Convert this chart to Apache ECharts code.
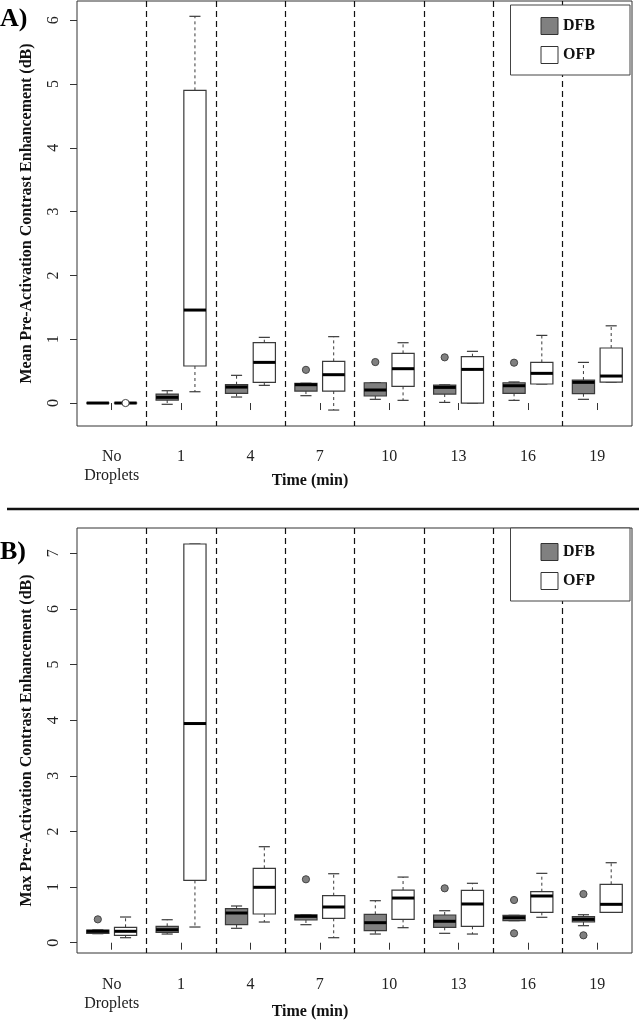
<!DOCTYPE html>
<html><head><meta charset="utf-8">
<script src="https://cdn.jsdelivr.net/npm/echarts@6/dist/echarts.min.js"></script>
<style>html,body{margin:0;padding:0;background:#fff}#c{width:639px;height:1020px}</style>
</head><body><div id="c"></div>
<script>
const categories = ['No\nDroplets','1','4','7','10','13','16','19'];
const yTicksA = [0,1,2,3,4,5,6];
const yTicksB = [0,1,2,3,4,5,6,7];

// box stats per category: [lower whisker, Q1, median, Q3, upper whisker]
const meanDFB = [
  [0,0,0,0,0],
  [-0.02,0.047,0.089,0.141,0.193],
  [0.094,0.152,0.25,0.287,0.434],
  [0.115,0.188,0.287,0.308,0.31],
  [0.058,0.11,0.204,0.318,0.32],
  [0.01,0.141,0.245,0.282,0.285],
  [0.042,0.152,0.271,0.318,0.33],
  [0.058,0.146,0.324,0.36,0.637]
];
const meanOFP = [
  [0,0,0,0,0],
  [0.177,0.58,1.457,4.90,6.06],
  [0.277,0.324,0.637,0.945,1.029],
  [-0.11,0.188,0.444,0.653,1.04],
  [0.042,0.261,0.538,0.778,0.945],
  [0.0,0.0,0.527,0.726,0.81],
  [0.298,0.298,0.465,0.637,1.06],
  [0.329,0.329,0.423,0.862,1.21]
];
const maxDFB = [
  [0.162,0.169,0.205,0.228,0.23],
  [0.156,0.187,0.234,0.295,0.413],
  [0.259,0.324,0.534,0.611,0.66],
  [0.324,0.408,0.474,0.503,0.503],
  [0.156,0.216,0.36,0.51,0.755],
  [0.169,0.277,0.385,0.498,0.575],
  [0.396,0.396,0.45,0.492,0.492],
  [0.306,0.372,0.42,0.468,0.503]
];
const maxOFP = [
  [0.09,0.133,0.205,0.277,0.462],
  [0.282,1.12,3.94,7.167,7.167],
  [0.372,0.516,0.996,1.337,1.726],
  [0.09,0.439,0.642,0.845,1.24],
  [0.27,0.42,0.803,0.947,1.18],
  [0.156,0.295,0.696,0.942,1.068],
  [0.457,0.546,0.84,0.917,1.247],
  [0.546,0.546,0.69,1.05,1.438]
];
// outliers: [category index, value]
const meanDFBOut = [[3,0.52],[4,0.642],[5,0.716],[6,0.632]];
const meanOFPOut = [[0,0.0]];
const maxDFBOut = [[0,0.42],[3,1.14],[5,0.978],[6,0.768],[6,0.169],[7,0.875],[7,0.133]];
const maxOFPOut = [];

const FONT = 'Liberation Serif';
const GREY = '#808080';
const STROKE = '#3a3a3a';
const OFF = 0.2, BW = 0.32;

function boxData(stats){ return stats.map((s,i)=>[i].concat(s)); }

function boxRender(side, fill){
  return function(params, api){
    const i = api.value(0);
    const band = api.size([1,0])[0];
    const cx = api.coord([i,0])[0] + side*band*OFF;
    const w = band*BW;
    const y = k => api.coord([i, api.value(k)])[1];
    const lo=y(1), q1=y(2), md=y(3), q3=y(4), hi=y(5);
    const sw = w/4;
    return {type:'group', children:[
      {type:'line', shape:{x1:cx,y1:q3,x2:cx,y2:hi}, style:{stroke:STROKE, lineWidth:1, lineDash:[3,3]}},
      {type:'line', shape:{x1:cx,y1:q1,x2:cx,y2:lo}, style:{stroke:STROKE, lineWidth:1, lineDash:[3,3]}},
      {type:'line', shape:{x1:cx-sw,y1:hi,x2:cx+sw,y2:hi}, style:{stroke:STROKE, lineWidth:1.2}},
      {type:'line', shape:{x1:cx-sw,y1:lo,x2:cx+sw,y2:lo}, style:{stroke:STROKE, lineWidth:1.2}},
      {type:'rect', shape:{x:cx-w/2, y:q3, width:w, height:Math.max(q1-q3,0.01)}, style:{fill:fill, stroke:STROKE, lineWidth:1.2}},
      {type:'line', shape:{x1:cx-w/2,y1:md,x2:cx+w/2,y2:md}, style:{stroke:'#000', lineWidth:3}}
    ]};
  };
}
function outRender(side, fill){
  return function(params, api){
    const i = api.value(0);
    const band = api.size([1,0])[0];
    const p = api.coord([i, api.value(1)]);
    return {type:'circle', shape:{cx:p[0]+side*band*OFF, cy:p[1], r:3.6}, style:{fill:fill, stroke:'#444', lineWidth:1}};
  };
}

function xAxis(gi, margin){
  return {type:'category', gridIndex:gi, data:categories, boundaryGap:true,
    axisLine:{show:false},
    axisTick:{show:true, alignWithLabel:true, length:7, interval:0, lineStyle:{color:'#333', width:1}},
    axisLabel:{margin:margin, interval:0, fontFamily:FONT, fontSize:16, color:'#222', lineHeight:19},
    splitLine:{show:true, interval:0, showMinLine:false, showMaxLine:false, lineStyle:{color:'#111', type:[6,4], width:1.2}}};
}
function yAxis(gi, min, max, ticks, name){
  return {type:'value', gridIndex:gi, min:min, max:max,
    axisLine:{show:false}, splitLine:{show:false},
    axisTick:{show:true, length:7, lineStyle:{color:'#333'}, customValues:ticks},
    axisLabel:{rotate:90, margin:15, fontFamily:FONT, fontSize:16, color:'#222', customValues:ticks},
    name:name, nameLocation:'middle', nameGap:42, nameRotate:90,
    nameTextStyle:{fontFamily:FONT, fontWeight:'bold', fontSize:16, color:'#111'}};
}
function legend(top, padTop){
  return {top:top, right:9, orient:'vertical', padding:[padTop,35,11,30], itemGap:11,
    itemWidth:17, itemHeight:17, borderColor:'#444', borderWidth:1, backgroundColor:'#fff',
    selectedMode:false, z:10,
    textStyle:{fontFamily:FONT, fontWeight:'bold', fontSize:16, color:'#111'},
    data:[{name:'DFB', icon:'rect', itemStyle:{color:GREY, borderColor:'#333', borderWidth:1}},
          {name:'OFP', icon:'rect', itemStyle:{color:'#fff', borderColor:'#333', borderWidth:1}}]};
}
function seriesFor(gi, dfb, ofp, dfbOut, ofpOut){
  return [
    {name:'DFB', type:'custom', xAxisIndex:gi, yAxisIndex:gi, renderItem:boxRender(-1, GREY), data:boxData(dfb), encode:{x:0,y:[1,2,3,4,5]}, itemStyle:{color:GREY}},
    {name:'OFP', type:'custom', xAxisIndex:gi, yAxisIndex:gi, renderItem:boxRender(1, '#fff'), data:boxData(ofp), encode:{x:0,y:[1,2,3,4,5]}, itemStyle:{color:'#fff'}},
    {name:'DFB', type:'custom', xAxisIndex:gi, yAxisIndex:gi, renderItem:outRender(-1, GREY), data:dfbOut, encode:{x:0,y:1}},
    {name:'OFP', type:'custom', xAxisIndex:gi, yAxisIndex:gi, renderItem:outRender(1, '#fff'), data:ofpOut, encode:{x:0,y:1}}
  ];
}

const chart = echarts.init(document.getElementById('c'), null, {renderer:'canvas'});
chart.setOption({
  animation:false,
  backgroundColor:'#fff',
  grid:[
    {left:77, right:7, top:1, height:425, show:true, borderColor:'#333', borderWidth:1, backgroundColor:'transparent', outerBoundsMode:'none'},
    {left:77, right:7, top:528, height:425, show:true, borderColor:'#333', borderWidth:1, backgroundColor:'transparent', outerBoundsMode:'none'}
  ],
  xAxis:[xAxis(0,21), xAxis(1,22.5)],
  yAxis:[
    yAxis(0, -0.36, 6.30, yTicksA, 'Mean Pre-Activation Contrast Enhancement (dB)'),
    yAxis(1, -0.185, 7.455, yTicksB, 'Max Pre-Activation Contrast Enhancement (dB)')
  ],
  legend:[legend(5,12), legend(528,15)],
  series:[].concat(
    seriesFor(0, meanDFB, meanOFP, meanDFBOut, meanOFPOut),
    seriesFor(1, maxDFB, maxOFP, maxDFBOut, maxOFPOut)
  ),
  graphic:[
    {type:'text', left:0, top:6, style:{text:'A)', font:'bold 26px "Liberation Serif"', fill:'#000'}},
    {type:'text', left:0, top:539, style:{text:'B)', font:'bold 26px "Liberation Serif"', fill:'#000'}},
    {type:'text', x:310, y:481, style:{text:'Time (min)', font:'bold 16px "Liberation Serif"', fill:'#111', align:'center', verticalAlign:'middle'}},
    {type:'text', x:310, y:1012, style:{text:'Time (min)', font:'bold 16px "Liberation Serif"', fill:'#111', align:'center', verticalAlign:'middle'}},
    {type:'line', shape:{x1:7, y1:509, x2:639, y2:509}, style:{stroke:'#111', lineWidth:2.5}}
  ]
});
</script></body></html>
